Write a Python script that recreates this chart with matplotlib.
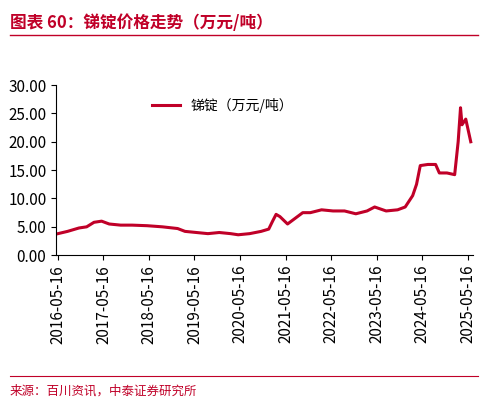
import matplotlib
matplotlib.use("Agg")
import matplotlib.pyplot as plt
import matplotlib.dates as mdates
import pandas as pd

plt.rcParams['font.family'] = ['Noto Sans CJK SC', 'DejaVu Sans']

dates = ["2016-05-16","2016-08-01","2016-11-01","2017-01-01","2017-03-01","2017-05-01","2017-07-01","2017-10-01",
         "2018-01-01","2018-05-01","2018-09-01","2019-01-01","2019-03-01","2019-06-01","2019-09-01","2019-12-01",
         "2020-03-01","2020-05-01","2020-08-01","2020-11-01","2021-01-01","2021-02-01","2021-03-01","2021-04-01",
         "2021-06-01","2021-08-01","2021-10-01","2021-12-01","2022-03-01","2022-06-01","2022-09-01","2022-12-01",
         "2023-03-01","2023-05-01","2023-08-01","2023-11-01","2024-01-01","2024-03-01","2024-04-01","2024-05-01",
         "2024-07-01","2024-09-01","2024-10-01","2024-12-01","2025-02-01","2025-03-01","2025-03-20","2025-04-01",
         "2025-05-01","2025-06-10"]
prices = [3.8,4.2,4.8,5.0,5.8,6.0,5.5,5.3,
          5.3,5.2,5.0,4.7,4.2,4.0,3.8,4.0,
          3.8,3.6,3.8,4.2,4.6,6.0,7.2,6.8,
          5.5,6.5,7.5,7.5,8.0,7.8,7.8,7.3,
          7.8,8.5,7.8,8.0,8.5,10.5,12.5,15.8,
          16.0,16.0,14.5,14.5,14.2,20.0,26.0,23.0,
          24.0,20.0]
ticks = ["2016-05-16","2017-05-16","2018-05-16","2019-05-16","2020-05-16","2021-05-16",
         "2022-05-16","2023-05-16","2024-05-16","2025-05-16"]

fig = plt.figure(figsize=(4.88, 4.07), dpi=100)
ax = fig.add_axes([0.115, 0.373, 0.855, 0.418])
x = pd.to_datetime(dates)
ax.plot(x, prices, color='#C00028', lw=2.2, label='锑锭（万元/吨）')
ax.set_ylim(0, 30)
ax.set_yticks(range(0, 31, 5))
ax.set_yticklabels([f"{v:.2f}" for v in range(0, 31, 5)], fontsize=11)
tk = pd.to_datetime(ticks)
ax.set_xticks(tk)
ax.set_xticklabels(ticks, rotation=90, fontsize=11)
ax.set_xlim(pd.Timestamp("2016-05-01"), pd.Timestamp("2025-07-01"))
for s in ['top', 'right']:
    ax.spines[s].set_visible(False)
ax.legend(loc='upper left', bbox_to_anchor=(0.2, 1.0), frameon=False, fontsize=10)

fig.text(0.02, 0.93, "图表 60：锑锭价格走势（万元/吨）", color='#C00028', fontsize=12,
         fontweight='bold', style='italic')
fig.add_artist(plt.Line2D([0.02, 0.98], [0.915, 0.915], color='#C00028', lw=1))
fig.text(0.02, 0.03, "来源：百川资讯，中泰证券研究所", color='#C00028', fontsize=9)
fig.add_artist(plt.Line2D([0.02, 0.98], [0.075, 0.075], color='#C00028', lw=0.8))
fig.savefig("out.png", dpi=100)
